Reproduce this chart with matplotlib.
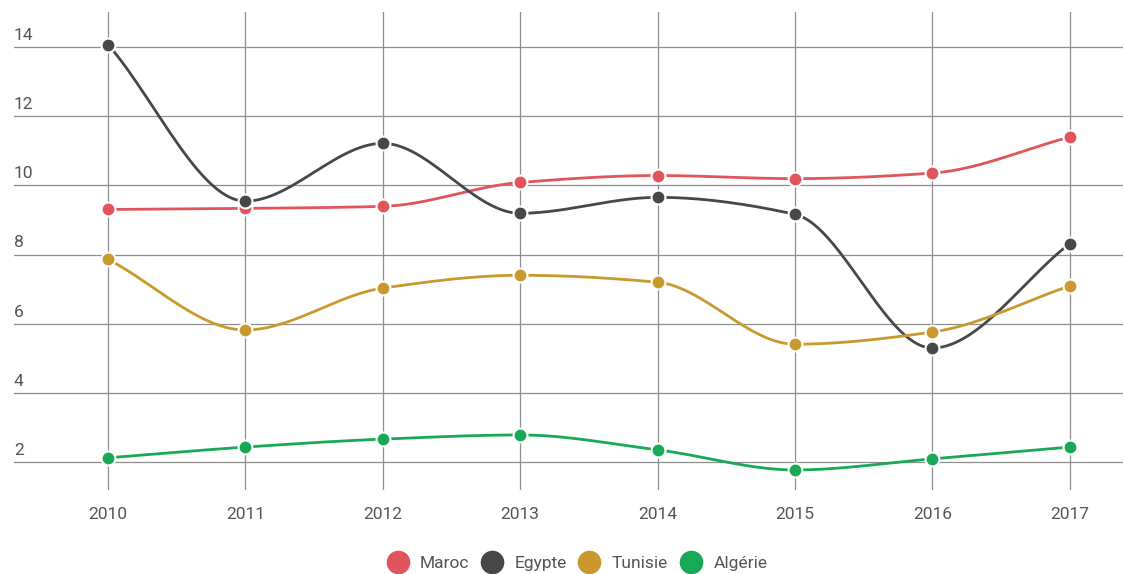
import numpy as np
import matplotlib.pyplot as plt
from matplotlib.lines import Line2D

plt.rcParams['font.family'] = ['Roboto', 'DejaVu Sans']

years = [2010, 2011, 2012, 2013, 2014, 2015, 2016, 2017]
maroc = [9.30, 9.33, 9.39, 10.08, 10.28, 10.19, 10.35, 11.39]
egypte = [14.06, 9.54, 11.21, 9.19, 9.65, 9.16, 5.30, 8.31]
tunisie = [7.86, 5.82, 7.03, 7.40, 7.20, 5.41, 5.76, 7.09]
algerie = [2.13, 2.44, 2.67, 2.79, 2.36, 1.78, 2.10, 2.44]

series = [('Maroc', maroc, '#e0545b'),
          ('Egypte', egypte, '#474747'),
          ('Tunisie', tunisie, '#c9992e'),
          ('Algérie', algerie, '#17a955')]
yticks = [2, 4, 6, 8, 10, 12, 14]


def monotone(x, y, n=30):
    # courbe monotone (Fritsch-Carlson) pour le tracé lissé
    x = np.asarray(x, float)
    y = np.asarray(y, float)
    h = np.diff(x)
    d = np.diff(y) / h
    m = np.zeros_like(y)
    m[0], m[-1] = d[0], d[-1]
    for i in range(1, len(y) - 1):
        if d[i - 1] * d[i] <= 0:
            m[i] = 0
        else:
            m[i] = 3 * (h[i - 1] + h[i]) / ((2 * h[i] + h[i - 1]) / d[i - 1] + (h[i] + 2 * h[i - 1]) / d[i])
    xs, ys = [], []
    for i in range(len(x) - 1):
        t = np.linspace(0, 1, n)
        h00 = 2 * t**3 - 3 * t**2 + 1
        h10 = t**3 - 2 * t**2 + t
        h01 = -2 * t**3 + 3 * t**2
        h11 = t**3 - t**2
        xs.append(x[i] + t * h[i])
        ys.append(h00 * y[i] + h10 * h[i] * m[i] + h01 * y[i + 1] + h11 * h[i] * m[i + 1])
    return np.concatenate(xs), np.concatenate(ys)


fig = plt.figure(figsize=(11.25, 5.74), dpi=100)
ax = fig.add_axes([0.0124, 0.1463, 0.986, 0.8327])

for name, vals, col in series:
    xs, ys = monotone(years, vals)
    ax.plot(xs, ys, color=col, lw=2, zorder=3)
    ax.plot(years, vals, 'o', color=col, ms=10, mec='white', mew=1.5, zorder=4)

ax.set_xlim(2009.315, 2017.39)
ax.set_ylim(1.2, 15.0)
ax.set_xticks(years)
ax.set_xticklabels([str(y) for y in years])
ax.set_yticks(yticks)
ax.set_yticklabels([])
ax.tick_params(axis='x', length=0, pad=12, labelsize=12.5, labelcolor='#555555')
ax.tick_params(axis='y', length=0)
for v in yticks:
    ax.text(0.0, v + 0.12, str(v), transform=ax.get_yaxis_transform(),
            fontsize=12.5, color='#555555', ha='left', va='bottom')

ax.grid(True, color='#8f8f8f', lw=0.9)
ax.set_axisbelow(True)
for s in ax.spines.values():
    s.set_visible(False)

handles = [Line2D([], [], marker='o', ls='', color=c, ms=16) for _, _, c in series]
fig.legend(handles, [n for n, _, _ in series], loc='center', bbox_to_anchor=(0.51, 0.018),
           ncol=4, frameon=False, fontsize=12.5, handletextpad=0.3, columnspacing=0.3,
           labelcolor='#555555')

fig.savefig('out.png', dpi=100)
